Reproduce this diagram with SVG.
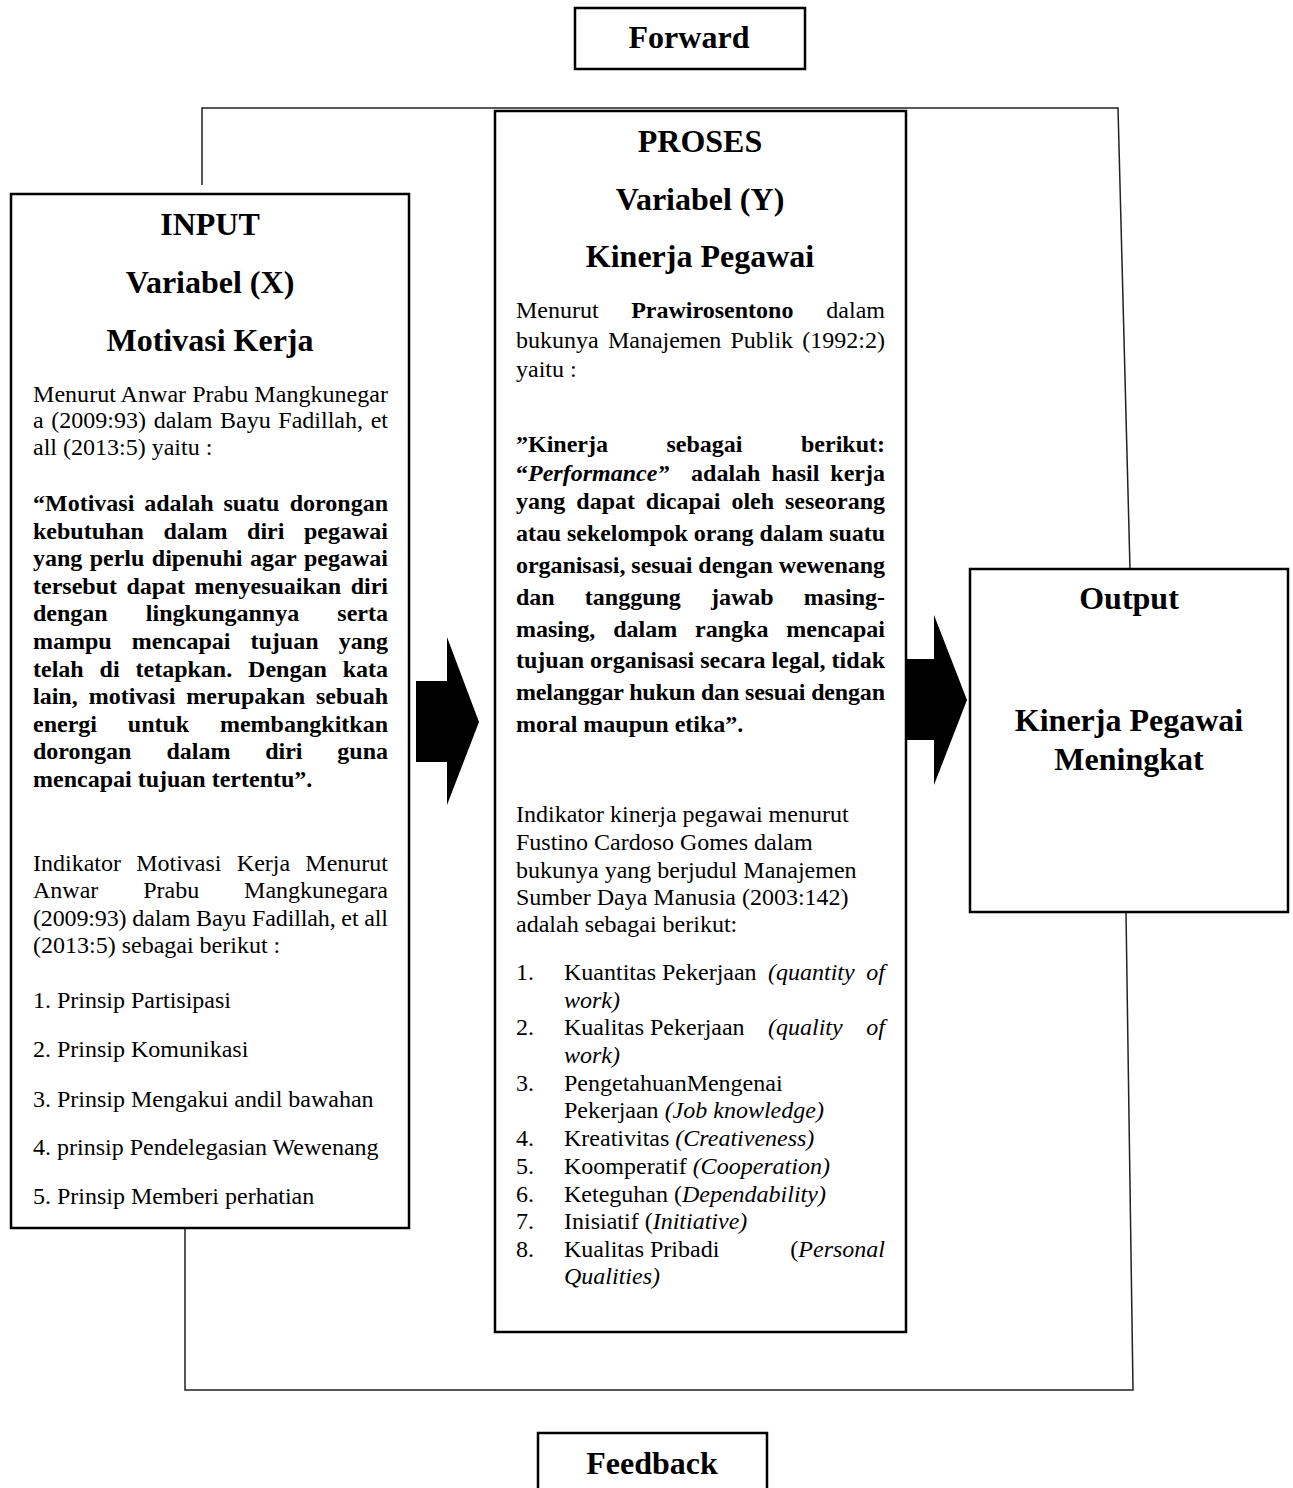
<svg xmlns="http://www.w3.org/2000/svg" width="1293" height="1488" viewBox="0 0 1293 1488">
<style>
text { font-family: "Liberation Serif", "Times New Roman", serif; fill: #000; }
.h { font-size: 32px; font-weight: bold; text-anchor: middle; }
.r { font-size: 24px; }
.b { font-size: 24px; font-weight: bold; }
.i { font-style: italic; }
.e { text-anchor: end; }
.box { fill: #fff; stroke: #000; stroke-width: 2.5; }
.con { fill: none; stroke: #222; stroke-width: 1.5; }
.arr { fill: #000; stroke: none; }
</style>
<rect width="1293" height="1488" fill="#fff"/>

<g id="connectors">
  <polyline class="con" points="202,185 202,108 1118,108 1130,569"/>
  <polyline class="con" points="185,1228 185,1390 1133,1390 1126,912"/>
  <polygon class="arr" points="416,681 447,681 447,637 479,722 447,805 447,762 416,762"/>
  <polygon class="arr" points="906,659 934,659 934,615 967,700 934,785 934,740 906,740"/>
</g>

<g id="forward">
  <rect class="box" x="575" y="8" width="230" height="61"/>
  <text class="h" x="689" y="48">Forward</text>
</g>

<g id="input">
  <rect class="box" x="11" y="194" width="398" height="1034"/>
  <text class="h" x="210" y="235">INPUT</text>
  <text class="h" x="210" y="293">Variabel (X)</text>
  <text class="h" x="210" y="351">Motivasi Kerja</text>
  <text class="r" x="33" y="402" textLength="355" lengthAdjust="spacing">Menurut Anwar Prabu Mangkunegar</text>
  <text class="r" y="428"><tspan x="33">a</tspan><tspan x="51.3">(2009:93)</tspan><tspan x="153.7">dalam</tspan><tspan x="220">Bayu</tspan><tspan x="278.3">Fadillah,</tspan></text>
  <text class="r e" x="388" y="428">et</text>
  <text class="r" x="33" y="455">all (2013:5) yaitu :</text>
  <text class="b" y="511"><tspan x="33">“Motivasi</tspan><tspan x="144.2">adalah</tspan><tspan x="223.4">suatu</tspan></text>
  <text class="b e" x="388" y="511">dorongan</text>
  <text class="b" y="538.6"><tspan x="33">kebutuhan</tspan><tspan x="163.4">dalam</tspan><tspan x="247.1">diri</tspan></text>
  <text class="b e" x="388" y="538.6">pegawai</text>
  <text class="b" y="566.2"><tspan x="33">yang</tspan><tspan x="89.7">perlu</tspan><tspan x="151.8">dipenuhi</tspan><tspan x="249.9">agar</tspan></text>
  <text class="b e" x="388" y="566.2">pegawai</text>
  <text class="b" y="593.8"><tspan x="33">tersebut</tspan><tspan x="126.4">dapat</tspan><tspan x="194.5">menyesuaikan</tspan></text>
  <text class="b e" x="388" y="593.8">diri</text>
  <text class="b" y="621.4"><tspan x="33">dengan</tspan><tspan x="145.8">lingkungannya</tspan></text>
  <text class="b e" x="388" y="621.4">serta</text>
  <text class="b" y="649"><tspan x="33">mampu</tspan><tspan x="131.8">mencapai</tspan><tspan x="250.5">tujuan</tspan></text>
  <text class="b e" x="388" y="649">yang</text>
  <text class="b" y="676.6"><tspan x="33">telah</tspan><tspan x="99.6">di</tspan><tspan x="135.5">tetapkan.</tspan><tspan x="248.1">Dengan</tspan></text>
  <text class="b e" x="388" y="676.6">kata</text>
  <text class="b" y="704.2"><tspan x="33">lain,</tspan><tspan x="88.7">motivasi</tspan><tspan x="186.3">merupakan</tspan></text>
  <text class="b e" x="388" y="704.2">sebuah</text>
  <text class="b" y="731.8"><tspan x="33">energi</tspan><tspan x="127.8">untuk</tspan></text>
  <text class="b e" x="388" y="731.8">membangkitkan</text>
  <text class="b" y="759.4"><tspan x="33">dorongan</tspan><tspan x="166.5">dalam</tspan><tspan x="265.2">diri</tspan></text>
  <text class="b e" x="388" y="759.4">guna</text>
  <text class="b" x="33" y="787">mencapai tujuan tertentu”.</text>
  <text class="r" y="871"><tspan x="33">Indikator</tspan><tspan x="136.2">Motivasi</tspan><tspan x="236.8">Kerja</tspan></text>
  <text class="r e" x="388" y="871">Menurut</text>
  <text class="r" y="898"><tspan x="33">Anwar</tspan><tspan x="143.2">Prabu</tspan></text>
  <text class="r e" x="388" y="898">Mangkunegara</text>
  <text class="r" x="33" y="926" textLength="355" lengthAdjust="spacing">(2009:93) dalam Bayu Fadillah, et all</text>
  <text class="r" x="33" y="953">(2013:5) sebagai berikut :</text>
  <text class="r" x="33" y="1008">1. Prinsip Partisipasi</text>
  <text class="r" x="33" y="1057">2. Prinsip Komunikasi</text>
  <text class="r" x="33" y="1107">3. Prinsip Mengakui andil bawahan</text>
  <text class="r" x="33" y="1155">4. prinsip Pendelegasian Wewenang</text>
  <text class="r" x="33" y="1204">5. Prinsip Memberi perhatian</text>
</g>

<g id="proses">
  <rect class="box" x="495" y="111" width="411" height="1221"/>
  <text class="h" x="700" y="152">PROSES</text>
  <text class="h" x="700" y="210">Variabel (Y)</text>
  <text class="h" x="700" y="267">Kinerja Pegawai</text>
  <text class="r" x="516" y="318">Menurut</text>
  <text class="b" x="631.2" y="318">Prawirosentono</text>
  <text class="r e" x="885" y="318">dalam</text>
  <text class="r" y="348"><tspan x="516">bukunya</tspan><tspan x="607.9">Manajemen</tspan><tspan x="730.4">Publik</tspan></text>
  <text class="r e" x="885" y="348">(1992:2)</text>
  <text class="r" x="516" y="377">yaitu :</text>
  <text class="b" y="452"><tspan x="516">”Kinerja</tspan><tspan x="666.5">sebagai</tspan></text>
  <text class="b e" x="885" y="452">berikut:</text>
  <text class="b" x="516" y="481">“<tspan class="i">Performance”</tspan></text>
  <text class="b" y="481"><tspan x="691.1">adalah</tspan><tspan x="771.4">hasil</tspan></text>
  <text class="b e" x="885" y="481">kerja</text>
  <text class="b" y="509"><tspan x="516">yang</tspan><tspan x="576.3">dapat</tspan><tspan x="645.8">dicapai</tspan><tspan x="731.4">oleh</tspan></text>
  <text class="b e" x="885" y="509">seseorang</text>
  <text class="b" x="516" y="541" textLength="369" lengthAdjust="spacing">atau sekelompok orang dalam suatu</text>
  <text class="b" x="516" y="573" textLength="369" lengthAdjust="spacing">organisasi, sesuai dengan wewenang</text>
  <text class="b" y="605"><tspan x="516">dan</tspan><tspan x="584.8">tanggung</tspan><tspan x="710.9">jawab</tspan></text>
  <text class="b e" x="885" y="605">masing-</text>
  <text class="b" y="637"><tspan x="516">masing,</tspan><tspan x="613.2">dalam</tspan><tspan x="695.1">rangka</tspan></text>
  <text class="b e" x="885" y="637">mencapai</text>
  <text class="b" x="516" y="668" textLength="369" lengthAdjust="spacing">tujuan organisasi secara legal, tidak</text>
  <text class="b" x="516" y="700" textLength="369" lengthAdjust="spacing">melanggar hukun dan sesuai dengan</text>
  <text class="b" x="516" y="732">moral maupun etika”.</text>
  <text class="r" x="516" y="822">Indikator kinerja pegawai menurut</text>
  <text class="r" x="516" y="850">Fustino Cardoso Gomes dalam</text>
  <text class="r" x="516" y="878">bukunya yang berjudul Manajemen</text>
  <text class="r" x="516" y="905">Sumber Daya Manusia (2003:142)</text>
  <text class="r" x="516" y="932">adalah sebagai berikut:</text>
  <text class="r" x="516" y="980">1.</text>
  <text class="r" x="564" y="980">Kuantitas Pekerjaan</text>
  <text class="r i" x="768" y="980">(quantity</text>
  <text class="r i e" x="885" y="980">of</text>
  <text class="r i" x="564" y="1008">work)</text>
  <text class="r" x="516" y="1035">2.</text>
  <text class="r" x="564" y="1035">Kualitas Pekerjaan</text>
  <text class="r i" x="768" y="1035">(quality</text>
  <text class="r i e" x="885" y="1035">of</text>
  <text class="r i" x="564" y="1063">work)</text>
  <text class="r" x="516" y="1091">3.</text>
  <text class="r" x="564" y="1091">PengetahuanMengenai</text>
  <text class="r" x="564" y="1118">Pekerjaan <tspan class="i">(Job knowledge)</tspan></text>
  <text class="r" x="516" y="1146">4.</text>
  <text class="r" x="564" y="1146">Kreativitas <tspan class="i">(Creativeness)</tspan></text>
  <text class="r" x="516" y="1174">5.</text>
  <text class="r" x="564" y="1174">Koomperatif <tspan class="i">(Cooperation)</tspan></text>
  <text class="r" x="516" y="1202">6.</text>
  <text class="r" x="564" y="1202">Keteguhan (<tspan class="i">Dependability)</tspan></text>
  <text class="r" x="516" y="1229">7.</text>
  <text class="r" x="564" y="1229">Inisiatif (<tspan class="i">Initiative)</tspan></text>
  <text class="r" x="516" y="1257">8.</text>
  <text class="r" x="564" y="1257">Kualitas Pribadi</text>
  <text class="r e" x="885" y="1257">(<tspan class="i">Personal</tspan></text>
  <text class="r i" x="564" y="1284">Qualities)</text>
</g>

<g id="output">
  <rect class="box" x="970" y="569" width="318" height="343"/>
  <text class="h" x="1129" y="609">Output</text>
  <text class="h" x="1129" y="731">Kinerja Pegawai</text>
  <text class="h" x="1129" y="770">Meningkat</text>
</g>

<g id="feedback">
  <rect class="box" x="538" y="1433" width="229" height="70"/>
  <text class="h" x="652" y="1474">Feedback</text>
</g>
</svg>
